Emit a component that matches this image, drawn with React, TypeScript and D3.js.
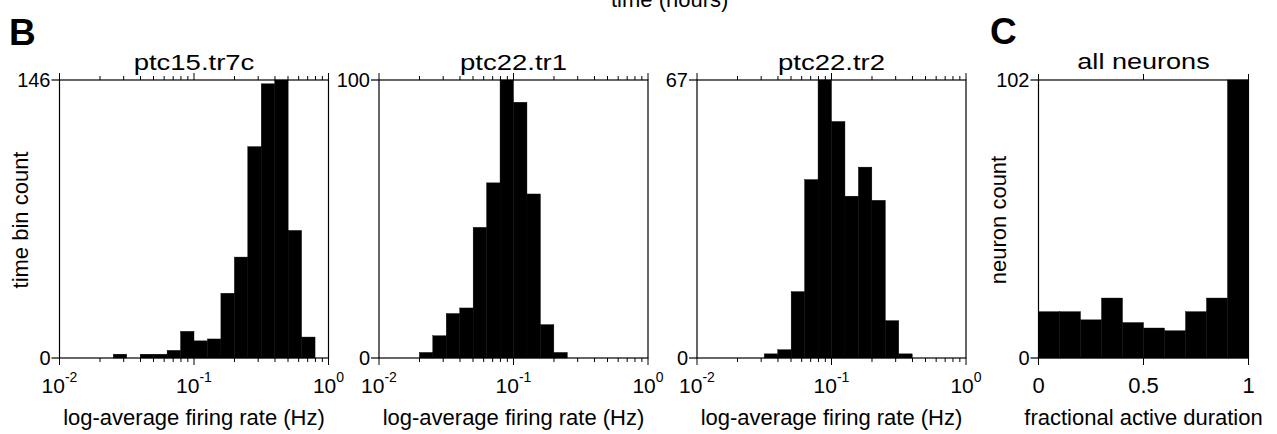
import React from 'react';
import * as d3 from 'd3';

// ---- data ----
const logBinEdges = [-2.0, -1.9, -1.8, -1.7, -1.6, -1.5, -1.4, -1.3, -1.2, -1.1, -1.0, -0.9, -0.8, -0.7, -0.6, -0.5, -0.4, -0.3, -0.2, -0.1, 0.0];
const countsPtc15tr7c = [0, 0, 0, 0, 2, 0, 2, 2, 4, 14, 9, 10, 34, 53, 111, 144, 146, 67, 11, 0];
const countsPtc22tr1 = [0, 0, 0, 2, 8, 16, 18, 47, 63, 100, 92, 59, 12, 2, 0, 0, 0, 0, 0, 0];
const countsPtc22tr2 = [0, 0, 0, 0, 0, 1, 2, 16, 43, 67, 57, 39, 46, 38, 9, 1, 0, 0, 0, 0];
const titlesB = ['ptc15.tr7c', 'ptc22.tr1', 'ptc22.tr2'];
const yMaxB = [146, 100, 67];
const logTickExponents = ['-2', '-1', '0'];

const fracBinEdges = [0, 0.1, 0.2, 0.3, 0.4, 0.5, 0.6, 0.7, 0.8, 0.9, 1.0];
const countsAllNeurons = [17, 17, 14, 22, 13, 11, 10, 17, 22, 102];
const fracTicks = [0, 0.5, 1];
const fracTickLabels = ['0', '0.5', '1'];
const yMaxC = 102;

// ---- layout ----
const W = 1277, H = 434;
const FONT = "'Liberation Sans', Arial, Helvetica, sans-serif";
const TOP = 80, BOTTOM = 358;
const panelLeftB = [59.5, 379, 697];
const panelWB = 269;
const cLeft = 1038.5, cRight = 1248.5;

function YTicks({ x, y, max }: { x: number; y: d3.ScaleLinear<number, number>; max: number }) {
  return (
    <g>
      {[0, max].map((v) => (
        <g key={v}>
          <line x1={x - 8} x2={x} y1={y(v)} y2={y(v)} stroke="#000" strokeWidth={1.2} />
          <text x={x - 9} y={y(v)} dy="0.36em" textAnchor="end" fontSize={20} fontFamily={FONT}>{v}</text>
        </g>
      ))}
    </g>
  );
}

function PanelB({ idx }: { idx: number }) {
  const counts = [countsPtc15tr7c, countsPtc22tr1, countsPtc22tr2][idx];
  const x0 = panelLeftB[idx], x1 = x0 + panelWB;
  const x = d3.scaleLog().domain([0.01, 1]).range([x0, x1]);
  const y = d3.scaleLinear().domain([0, yMaxB[idx]]).range([BOTTOM, TOP]);
  const ticks = x.ticks();
  const majors = [0.01, 0.1, 1];
  const cx = (x0 + x1) / 2;
  return (
    <g>
      {counts.map((c, i) =>
        c > 0 ? (
          <rect key={i}
            x={x(Math.pow(10, logBinEdges[i]))}
            width={x(Math.pow(10, logBinEdges[i + 1])) - x(Math.pow(10, logBinEdges[i]))}
            y={y(c)} height={BOTTOM - y(c)}
            fill="#000" stroke="#000" strokeWidth={0.4} />
        ) : null
      )}
      <rect x={x0} y={TOP} width={x1 - x0} height={BOTTOM - TOP} fill="none" stroke="#000" strokeWidth={1.2} />
      {ticks.map((t, i) => {
        const isMajor = majors.some((m) => Math.abs(m - t) < 1e-9);
        const len = isMajor ? 7 : 4;
        return (
          <g key={i}>
            <line x1={x(t)} x2={x(t)} y1={BOTTOM} y2={BOTTOM + len} stroke="#000" strokeWidth={1} />
            <line x1={x(t)} x2={x(t)} y1={TOP} y2={TOP - len} stroke="#000" strokeWidth={1} />
          </g>
        );
      })}
      {majors.map((m, i) => (
        <text key={i} x={x(m)} y={393} textAnchor="middle" fontSize={21} fontFamily={FONT}>
          10<tspan fontSize={14} dy={-11}>{logTickExponents[i]}</tspan>
        </text>
      ))}
      <YTicks x={x0} y={y} max={yMaxB[idx]} />
      <text transform={`translate(${cx},70) scale(1.25,1)`} textAnchor="middle" fontSize={22} fontFamily={FONT}>{titlesB[idx]}</text>
      <text x={cx} y={425} textAnchor="middle" fontSize={22} fontFamily={FONT}>log-average firing rate (Hz)</text>
    </g>
  );
}

function PanelC() {
  const x = d3.scaleLinear().domain([0, 1]).range([cLeft, cRight]);
  const y = d3.scaleLinear().domain([0, yMaxC]).range([BOTTOM, TOP]);
  const cx = (cLeft + cRight) / 2;
  return (
    <g>
      {countsAllNeurons.map((c, i) => (
        <rect key={i} x={x(fracBinEdges[i])} width={x(fracBinEdges[i + 1]) - x(fracBinEdges[i])}
          y={y(c)} height={BOTTOM - y(c)} fill="#000" stroke="#000" strokeWidth={0.4} />
      ))}
      <rect x={cLeft} y={TOP} width={cRight - cLeft} height={BOTTOM - TOP} fill="none" stroke="#000" strokeWidth={1.2} />
      {fracTicks.map((t, i) => (
        <g key={i}>
          <line x1={x(t)} x2={x(t)} y1={BOTTOM} y2={BOTTOM + 7} stroke="#000" strokeWidth={1} />
          <line x1={x(t)} x2={x(t)} y1={TOP} y2={TOP - 6} stroke="#000" strokeWidth={1} />
          <text x={x(t)} y={393} textAnchor="middle" fontSize={22} fontFamily={FONT}>{fracTickLabels[i]}</text>
        </g>
      ))}
      <YTicks x={cLeft} y={y} max={yMaxC} />
      <text transform={`translate(${cx},69) scale(1.23,1)`} textAnchor="middle" fontSize={22} fontFamily={FONT}>all neurons</text>
      <text x={cx} y={425} textAnchor="middle" fontSize={22} fontFamily={FONT}>fractional active duration</text>
      <text transform={`translate(1006,220) rotate(-90)`} textAnchor="middle" fontSize={22} fontFamily={FONT}>neuron count</text>
    </g>
  );
}

export default function App() {
  return (
    <svg width={W} height={H} viewBox={`0 0 ${W} ${H}`} style={{ position: 'absolute', left: 0, top: 0, background: '#fff' }}>
      <rect x={0} y={0} width={W} height={H} fill="#fff" />
      <text x={611} y={7} fontSize={22} fontFamily={FONT}>time (hours)</text>
      <text x={9} y={45} fontSize={37} fontWeight="bold" fontFamily={FONT}>B</text>
      <text x={990} y={44} fontSize={37} fontWeight="bold" fontFamily={FONT}>C</text>
      <text transform={`translate(28,220) rotate(-90)`} textAnchor="middle" fontSize={22} fontFamily={FONT}>time bin count</text>
      {[0, 1, 2].map((i) => <PanelB key={i} idx={i} />)}
      <PanelC />
    </svg>
  );
}
